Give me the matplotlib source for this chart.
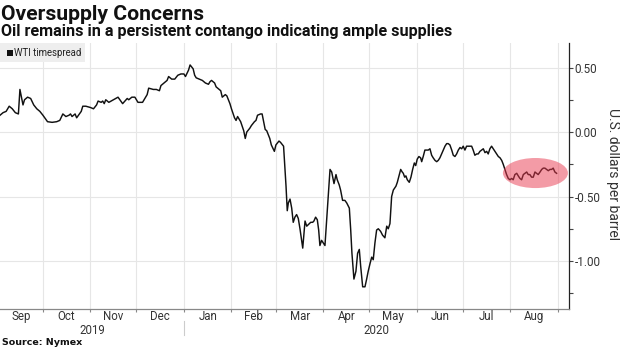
import datetime as dt
import matplotlib
matplotlib.use("Agg")
import matplotlib.pyplot as plt
import matplotlib.dates as mdates
from matplotlib.patches import Ellipse, Rectangle
from matplotlib.lines import Line2D
from matplotlib.ticker import FixedLocator, FuncFormatter

# ---------------- data ----------------
title = "Oversupply Concerns"
subtitle = "Oil remains in a persistent contango indicating ample supplies"
source = "Source: Nymex"
series_name = "WTI timespread"
y_label = "U.S. dollars per barrel"

start_date = dt.datetime(2019, 9, 3)
end_date = dt.datetime(2020, 9, 8, 5)

# days since start_date
day_offsets = [
    0, 2, 4, 6, 8, 10, 12, 13, 15, 16, 18, 20, 22, 24, 26, 28, 31, 34, 37, 39,
    41, 43, 45, 46, 47, 49, 50, 53, 54, 56, 59, 61, 63, 64, 66, 67, 68, 69, 71, 74,
    77, 80, 83, 84, 86, 88, 90,
    93, 95, 96, 97, 100, 102, 104, 105, 107, 109, 110, 112, 114, 116, 118, 120, 121, 123,
    124, 126, 127, 128, 130, 132, 134, 136, 137, 138, 140, 141, 142, 144, 145, 147, 148,
    150, 151, 153, 154, 155, 157, 159, 160, 161, 163, 164, 166, 167, 168, 170, 171, 173,
    174, 176, 177, 179, 180, 182, 183, 185,
    186.6, 187.4, 188.1, 189.2, 190.3, 191.3, 192.4, 193.5, 194.6, 195.7, 197.5, 199.0,
    200.1, 201.8, 202.7, 204.0, 204.8, 205.9, 207.0, 207.9, 208.7, 209.8, 210.9, 212.0,
    213.1, 214.2, 215.3, 216.4, 217.9, 219.2, 220.0, 221.3, 222.2, 223.5, 225.0, 226.2,
    227.9, 228.8, 229.6, 230.9, 232.2, 233.3, 234.4, 235.3, 236.6, 238.1, 239.2, 240.2,
    241.4, 242.5, 243.5, 244.6, 245.7, 246.8, 248.3, 249.6, 251.1, 252.3, 253.3, 254.4,
    255.5, 256.6, 258.3, 259.2, 260.5, 261.4, 262.4, 263.1, 264.0, 264.8, 265.7, 267.0,
    268.1, 269.2, 270.3, 271.2, 272.2, 273.3, 274.4, 275.1, 276.1, 277.2, 278.3, 279.4,
    280.5, 281.6, 282.6, 283.8, 284.9, 285.9, 287.0, 288.1, 289.2, 290.3, 291.4, 292.4,
    293.5, 294.7, 295.7, 296.8, 297.9, 299.0, 300.1, 301.2, 302.2, 303.3, 304.4, 305.5,
    306.6, 307.7, 308.7, 309.8, 311.0, 312.0, 313.1, 314.2, 315.3, 316.4, 317.5, 318.5,
    319.6, 320.7, 321.8, 322.9, 324.0, 325.1, 326.2, 327.3, 328.3, 329.4, 330.5, 331.6,
    332.7, 333.8, 334.8, 335.9, 337.1, 338.1, 339.2, 340.3, 341.4, 342.5, 343.6, 344.6,
    345.7, 346.8, 347.9, 349.0, 350.1, 351.1, 352.3, 353.4, 354.4, 355.5, 356.6, 357.7,
    358.8, 359.9, 360.9, 362.0, 363.1,
]

spread = [
    0.13, 0.15, 0.16, 0.20, 0.18, 0.15, 0.14, 0.33, 0.21, 0.25, 0.27, 0.26, 0.21, 0.18, 0.16, 0.13, 0.08, 0.075, 0.08, 0.09,
    0.14, 0.12, 0.13, 0.14, 0.12, 0.14, 0.11, 0.16, 0.20, 0.20, 0.19, 0.18, 0.21, 0.24, 0.23, 0.24, 0.22, 0.25, 0.23, 0.25,
    0.27, 0.22, 0.26, 0.25, 0.27, 0.27, 0.23,
    0.23, 0.27, 0.29, 0.34, 0.33, 0.33, 0.32, 0.36, 0.38, 0.40, 0.43, 0.41, 0.41, 0.44, 0.45, 0.45, 0.43, 0.48,
    0.52, 0.49, 0.44, 0.42, 0.41, 0.40, 0.38, 0.37, 0.39, 0.40, 0.38, 0.35, 0.34, 0.32, 0.27, 0.29, 0.28,
    0.22, 0.18, 0.11, 0.09, 0.12, 0.08, 0.01, -0.05, 0.00, 0.03, 0.05, 0.08, 0.09, 0.13, 0.14, 0.14, 0.02,
    0.01, -0.05, -0.10, -0.15, -0.10, -0.07, -0.08, -0.11,
    -0.42, -0.61, -0.55, -0.52, -0.59, -0.70, -0.66, -0.64, -0.67, -0.75, -0.90, -0.69,
    -0.73, -0.71, -0.70, -0.70, -0.69, -0.66, -0.68, -0.76, -0.88, -0.84, -0.86, -0.88,
    -0.68, -0.48, -0.29, -0.31, -0.40, -0.33, -0.37, -0.41, -0.45, -0.53, -0.53, -0.55,
    -0.59, -0.76, -0.94, -1.14, -1.08, -0.94, -0.91, -1.04, -1.20, -1.20, -1.14, -1.08,
    -1.02, -0.97, -0.99, -0.86, -0.76, -0.75, -0.77, -0.80, -0.82, -0.73, -0.75, -0.71,
    -0.50, -0.45, -0.42, -0.39, -0.33, -0.29, -0.31, -0.32, -0.35, -0.34, -0.37, -0.39,
    -0.35, -0.29, -0.24, -0.26, -0.21, -0.19, -0.20, -0.23, -0.19, -0.14, -0.14, -0.14,
    -0.13, -0.18, -0.20, -0.22, -0.23, -0.22, -0.20, -0.17, -0.14, -0.11, -0.09, -0.09,
    -0.10, -0.14, -0.18, -0.19, -0.17, -0.14, -0.12, -0.13, -0.11, -0.14, -0.11, -0.11,
    -0.11, -0.11, -0.14, -0.18, -0.17, -0.17, -0.15, -0.14, -0.13, -0.16, -0.15, -0.17,
    -0.13, -0.11, -0.13, -0.15, -0.17, -0.19, -0.20, -0.22, -0.25, -0.29, -0.33, -0.36,
    -0.37, -0.36, -0.37, -0.33, -0.32, -0.34, -0.36, -0.37, -0.33, -0.32, -0.31, -0.33,
    -0.33, -0.35, -0.35, -0.31, -0.32, -0.33, -0.31, -0.29, -0.28, -0.28, -0.29, -0.30,
    -0.29, -0.29, -0.28, -0.31, -0.32,
]

month_labels = ["Sep", "Oct", "Nov", "Dec", "Jan", "Feb", "Mar", "Apr", "May", "Jun", "Jul", "Aug"]
month_starts = [dt.datetime(2019, 9, 1)] + [
    dt.datetime(2019 + (9 + i) // 12, (9 + i) % 12 + 1, 1) for i in range(12)
]
year_labels = ["2019", "2020"]
y_major = [0.50, 0.00, -0.50, -1.00]
y_minor = [0.25, -0.25, -0.75, -1.25]
y_limits = (-1.372, 0.69)

# highlight ellipse (centre day, centre value, width days, height value)
hl_center_day = 349.3
hl_center_val = -0.318
hl_width_days = 42.4
hl_height = 0.233

# ---------------- figure ----------------
plt.rcParams["font.family"] = ["Roboto", "DejaVu Sans"]
W, H = 620, 347
fig = plt.figure(figsize=(W / 100, H / 100), dpi=100)
ax = fig.add_axes([0 / W, 1 - 309 / H, 569 / W, (309 - 43) / H])

x0 = mdates.date2num(start_date)
xs = [x0 + d for d in day_offsets]
x_end = mdates.date2num(end_date)

ax.set_xlim(x0, x_end)
ax.set_ylim(*y_limits)

grid_c = "#e6e6e6"
mnums = [mdates.date2num(m) for m in month_starts]
for m in mnums[1:]:
    ax.axvline(m, color=grid_c, lw=0.8, zorder=0)
for v in y_major:
    ax.axhline(v, color=grid_c, lw=0.8, zorder=0)

ax.plot(xs, spread, color="#111111", lw=1.05, zorder=3, solid_joinstyle="round")

ell = Ellipse((x0 + hl_center_day, hl_center_val), hl_width_days, hl_height,
              facecolor="#e8394f", alpha=0.5, edgecolor="none", zorder=4)
ax.add_patch(ell)

# spines
for s in ["left", "top"]:
    ax.spines[s].set_visible(False)
ax.spines["right"].set_color("#222222")
ax.spines["right"].set_linewidth(0.9)
ax.spines["bottom"].set_color("#888888")
ax.spines["bottom"].set_linewidth(0.9)

ax.yaxis.tick_right()
ax.yaxis.set_major_locator(FixedLocator(y_major))
ax.yaxis.set_minor_locator(FixedLocator(y_minor))
ax.yaxis.set_major_formatter(FuncFormatter(lambda v, p: f"{v:.2f}".replace("\u2212", "-")))
ax.tick_params(axis="y", which="major", length=3, width=0.8, color="#444444",
               labelsize=8.4, labelcolor="#333333", pad=1)
ax.tick_params(axis="y", which="minor", length=3, width=0.8, color="#444444")

ax.xaxis.set_major_locator(FixedLocator(mnums[1:]))
ax.xaxis.set_major_formatter(FuncFormatter(lambda v, p: ""))
ax.tick_params(axis="x", which="major", length=2.5, width=0.8, color="#888888")

xt = ax.get_xaxis_transform()
for i, lab in enumerate(month_labels):
    a = max(mnums[i], x0)
    b = mnums[i + 1]
    ax.text((a + b) / 2, -11 / 266, lab, transform=xt, ha="center", va="baseline",
            fontsize=8.3, color="#333333")

jan = mdates.date2num(dt.datetime(2020, 1, 1))
ax.text((x0 + jan) / 2, -24.5 / 266, year_labels[0], transform=xt,
        ha="center", va="baseline", fontsize=8.3, color="#333333")
ax.text((jan + x_end) / 2, -24.5 / 266, year_labels[1], transform=xt,
        ha="center", va="baseline", fontsize=8.3, color="#333333")
ax.add_line(Line2D([jan, jan], [-12 / 266, -26 / 266], transform=xt,
                   color="#cccccc", lw=0.8, clip_on=False))

fig.text(613 / W, 1 - 174 / H, y_label, rotation=270, ha="center", va="center",
         fontsize=10, color="#333333")

# legend
fig.patches.append(Rectangle((0, 1 - 62 / H), 85 / W, 19 / H, transform=fig.transFigure,
                             facecolor="#eeeeee", edgecolor="none"))
fig.patches.append(Rectangle((7 / W, 1 - 55.5 / H), 5.5 / W, 5.5 / H, transform=fig.transFigure,
                             facecolor="#111111", edgecolor="none"))
fig.text(14.5 / W, 1 - 52.7 / H, series_name, ha="left", va="center", fontsize=6.9, color="#222222")

# titles
fig.text(1 / W, 1 - 19.5 / H, title, ha="left", va="baseline", fontsize=15.2,
         fontweight="bold", color="#111111")
fig.text(1 / W, 1 - 36 / H, subtitle, ha="left", va="baseline", fontsize=11.6,
         fontweight="bold", color="#111111")
fig.text(2 / W, 1 - 345 / H, source, ha="left", va="baseline", fontsize=6.8,
         fontweight="bold", color="#111111", family="DejaVu Sans")

fig.savefig("out.png", dpi=100)
